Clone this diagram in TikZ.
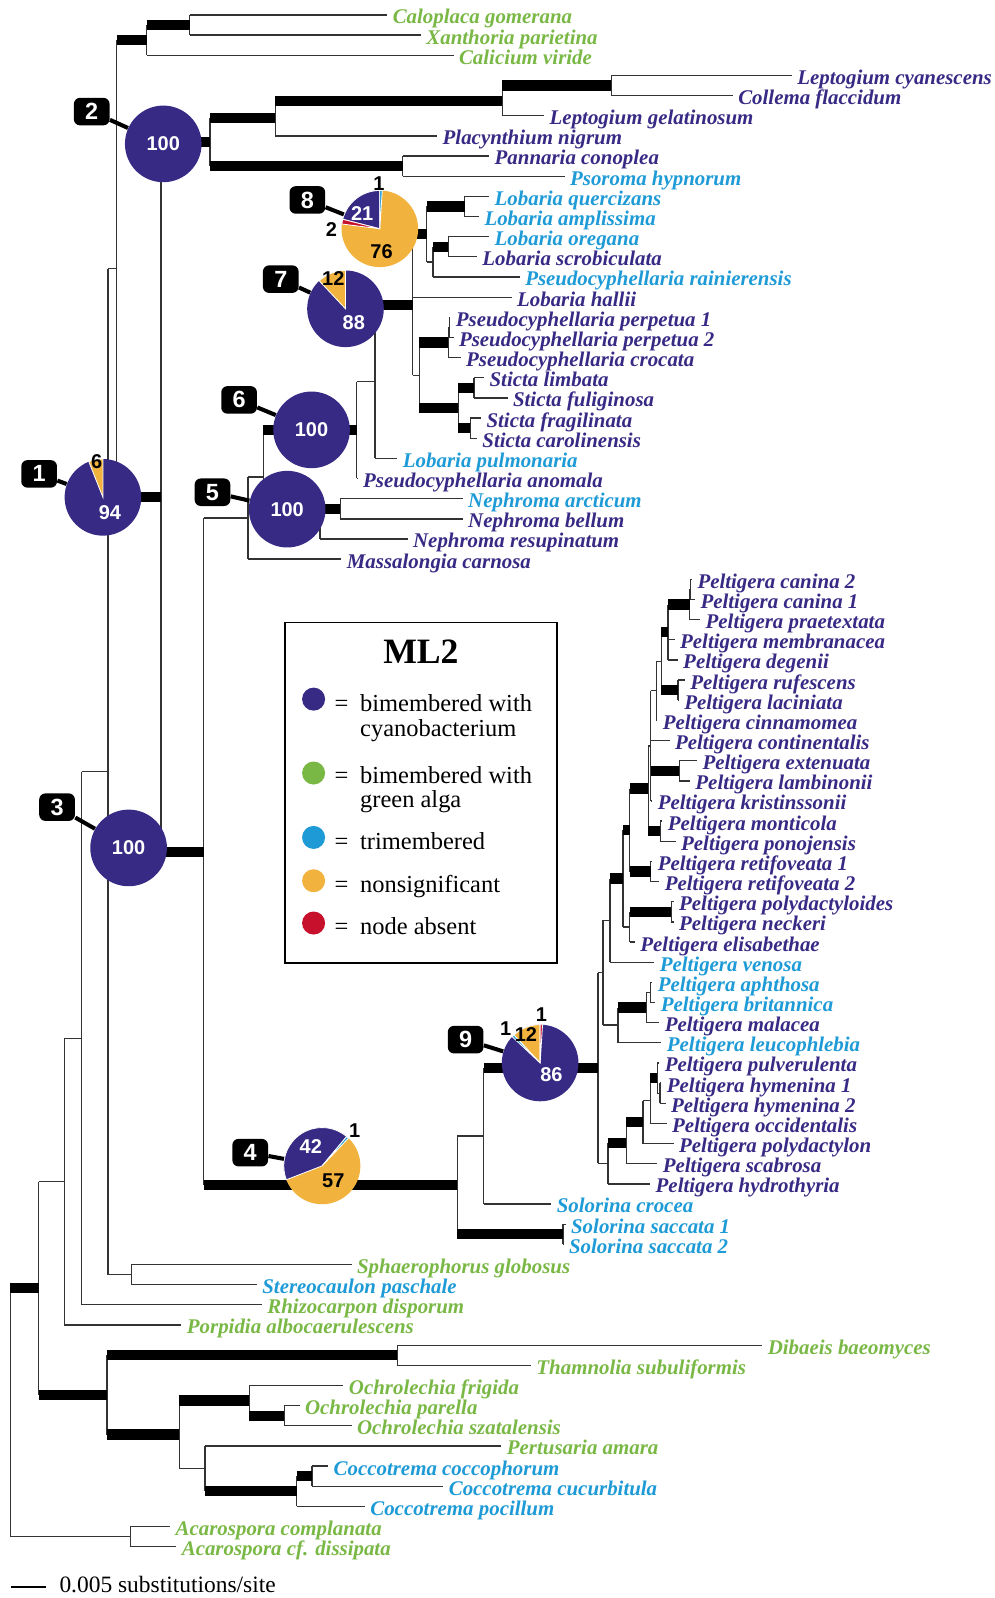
\documentclass[tikz,border=0pt]{standalone}
\usepackage{fontspec}
\setmainfont{Liberation Serif}
\setsansfont{Liberation Sans}
\definecolor{cyano}{RGB}{55,42,133}
\definecolor{alga}{RGB}{122,184,70}
\definecolor{trim}{RGB}{30,155,214}
\definecolor{nsig}{RGB}{241,179,62}
\definecolor{absent}{RGB}{198,16,44}
\begin{document}
\begin{tikzpicture}[x=0.5pt, y=-0.5pt,
    twig/.style={line width=0.65pt, black!80},
    bar/.style={line width=5pt},
    leaf/.style={anchor=west, inner xsep=2.5pt, inner ysep=0pt, text height=9pt, text depth=0.2pt,
      font=\fontsize{10.25}{12}\selectfont\bfseries\itshape},
    cb/.style={leaf, text=cyano},
    ga/.style={leaf, text=alga},
    tm/.style={leaf, text=trim},
    pie/.style={circle, fill=cyano, minimum size=37.6pt, inner sep=0pt, text=white,
      font=\sffamily\bfseries\fontsize{9.8}{10}\selectfont},
    num/.style={inner sep=0pt, font=\sffamily\bfseries\fontsize{9.8}{10}\selectfont},
    wedge/.style={draw=white, line width=0.4pt},
    tag/.style={fill=black, text=white, rounded corners=3pt, minimum width=17.5pt, minimum height=13.5pt,
      inner sep=0pt, font=\sffamily\bfseries\fontsize{11.5}{12}\selectfont},
    tagline/.style={line width=2pt},
    legtext/.style={anchor=base west, inner sep=0pt, font=\fontsize{12}{14}\selectfont},
    dot/.style={circle, minimum size=11.3pt, inner sep=0pt}]

    \useasboundingbox (0,0) rectangle (976,1568);

    % Taxa
    \node[ga] (calgom) at (380,14.7) {Caloplaca gomerana};
    \node[ga] (xanpar) at (413,34.5) {Xanthoria parietina};
    \node[ga] (calvir) at (445,54.3) {Calicium viride};
    \node[cb] (lepcya) at (777,74.0) {Leptogium cyanescens};
    \node[cb] (colfla) at (719,93.8) {Collema flaccidum};
    \node[cb] (lepgel) at (534,113.6) {Leptogium gelatinosum};
    \node[cb] (placyn) at (429,133.4) {Placynthium nigrum};
    \node[cb] (pancon) at (480,153.1) {Pannaria conoplea};
    \node[tm] (psohyp) at (554,172.9) {Psoroma hypnorum};
    \node[tm] (lobque) at (480,192.7) {Lobaria quercizans};
    \node[tm] (lobamp) at (470,212.5) {Lobaria amplissima};
    \node[tm] (lobore) at (480,232.2) {Lobaria oregana};
    \node[cb] (lobscr) at (468,252.0) {Lobaria scrobiculata};
    \node[tm] (psrain) at (510,271.8) {Pseudocyphellaria rainierensis};
    \node[cb] (lobhal) at (502,291.6) {Lobaria hallii};
    \node[cb] (psper1) at (442,311.3) {Pseudocyphellaria perpetua 1};
    \node[cb] (psper2) at (445,331.1) {Pseudocyphellaria perpetua 2};
    \node[cb] (pscroc) at (452,350.9) {Pseudocyphellaria crocata};
    \node[cb] (stilim) at (475,370.7) {Sticta limbata};
    \node[cb] (stiful) at (498,390.4) {Sticta fuliginosa};
    \node[cb] (stifra) at (472,410.2) {Sticta fragilinata};
    \node[cb] (sticar) at (468,430.0) {Sticta carolinensis};
    \node[tm] (lobpul) at (390,449.8) {Lobaria pulmonaria};
    \node[cb] (psanom) at (351,469.5) {Pseudocyphellaria anomala};
    \node[tm] (neparc) at (454,489.3) {Nephroma arcticum};
    \node[cb] (nepbel) at (454,509.1) {Nephroma bellum};
    \node[cb] (nepres) at (400,528.9) {Nephroma resupinatum};
    \node[cb] (masscar) at (335,548.6) {Massalongia carnosa};
    \node[cb] (pcan2) at (679,568.4) {Peltigera canina 2};
    \node[cb] (pcan1) at (682,588.2) {Peltigera canina 1};
    \node[cb] (ppraet) at (687,608.0) {Peltigera praetextata};
    \node[cb] (pmemb) at (662,627.7) {Peltigera membranacea};
    \node[cb] (pdeg) at (665,647.5) {Peltigera degenii};
    \node[cb] (pruf) at (672,667.3) {Peltigera rufescens};
    \node[cb] (placin) at (666,687.1) {Peltigera laciniata};
    \node[cb] (pcinn) at (645,706.8) {Peltigera cinnamomea};
    \node[cb] (pcont) at (657,726.6) {Peltigera continentalis};
    \node[cb] (pext) at (684,746.4) {Peltigera extenuata};
    \node[cb] (plamb) at (677,766.2) {Peltigera lambinonii};
    \node[cb] (pkris) at (640,785.9) {Peltigera kristinssonii};
    \node[cb] (pmont) at (650,805.7) {Peltigera monticola};
    \node[cb] (pponoj) at (663,825.5) {Peltigera ponojensis};
    \node[cb] (pret1) at (640,845.3) {Peltigera retifoveata 1};
    \node[cb] (pret2) at (647,865.0) {Peltigera retifoveata 2};
    \node[cb] (ppolyd) at (661,884.8) {Peltigera polydactyloides};
    \node[cb] (pneck) at (661,904.6) {Peltigera neckeri};
    \node[cb] (pelis) at (623,924.4) {Peltigera elisabethae};
    \node[tm] (pven) at (642,944.1) {Peltigera venosa};
    \node[tm] (paph) at (640,963.9) {Peltigera aphthosa};
    \node[tm] (pbrit) at (643,983.7) {Peltigera britannica};
    \node[cb] (pmal) at (647,1003.5) {Peltigera malacea};
    \node[tm] (pleuc) at (649,1023.2) {Peltigera leucophlebia};
    \node[cb] (ppulv) at (647,1043.0) {Peltigera pulverulenta};
    \node[cb] (phym1) at (649,1062.8) {Peltigera hymenina 1};
    \node[cb] (phym2) at (653,1082.6) {Peltigera hymenina 2};
    \node[cb] (poccid) at (654,1102.3) {Peltigera occidentalis};
    \node[cb] (ppolyn) at (661,1122.1) {Peltigera polydactylon};
    \node[cb] (pscab) at (645,1141.9) {Peltigera scabrosa};
    \node[cb] (phydro) at (638,1161.7) {Peltigera hydrothyria};
    \node[tm] (solcro) at (541,1181.4) {Solorina crocea};
    \node[tm] (solsac1) at (555,1201.2) {Solorina saccata 1};
    \node[tm] (solsac2) at (553,1221.0) {Solorina saccata 2};
    \node[ga] (sphglo) at (345,1240.8) {Sphaerophorus globosus};
    \node[tm] (stepas) at (252,1260.5) {Stereocaulon paschale};
    \node[ga] (rhidis) at (257,1280.3) {Rhizocarpon disporum};
    \node[ga] (porpalb) at (178,1300.1) {Porpidia albocaerulescens};
    \node[ga] (dibbae) at (748,1319.9) {Dibaeis baeomyces};
    \node[ga] (thasub) at (521,1339.6) {Thamnolia subuliformis};
    \node[ga] (ochfri) at (337,1359.4) {Ochrolechia frigida};
    \node[ga] (ochpar) at (294,1379.2) {Ochrolechia parella};
    \node[ga] (ochsza) at (345,1399.0) {Ochrolechia szatalensis};
    \node[ga] (perama) at (492,1418.7) {Pertusaria amara};
    \node[tm] (coccoc) at (322,1438.5) {Coccotrema coccophorum};
    \node[tm] (coccuc) at (435,1458.3) {Coccotrema cucurbitula};
    \node[tm] (cocpoc) at (358,1478.1) {Coccotrema pocillum};
    \node[ga] (acacom) at (167,1497.8) {Acarospora complanata};
    \node[ga] (acadis) at (173,1517.6) {Acarospora cf. dissipata};

    % Internal nodes
    \coordinate (root) at (10,1385.9);
    \coordinate (aca) at (128,1507.7);
    \coordinate (n38) at (38,1264.05);
    \coordinate (do) at (105,1368.7);
    \coordinate (dt) at (390,1329.75);
    \coordinate (op) at (175.8,1407.6);
    \coordinate (och) at (244.7,1374.25);
    \coordinate (ops) at (279,1389.1);
    \coordinate (pc) at (201,1441.0);
    \coordinate (cc) at (291,1463.25);
    \coordinate (cc2) at (306,1448.4);
    \coordinate (n63) at (63,1159.4);
    \coordinate (n80) at (80,1018.7);
    \coordinate (n106) at (106,757.1);
    \coordinate (sph) at (129,1250.65);
    \coordinate (n114) at (114.5,263.5);
    \coordinate (cal) at (144,39.45);
    \coordinate (cal2) at (186,24.6);
    \coordinate (n1) at (158,487.55);
    \coordinate (n2) at (206,139.5);
    \coordinate (lep) at (270,116.1);
    \coordinate (lepa) at (493,98.75);
    \coordinate (lepb) at (600,83.9);
    \coordinate (pan) at (395,163.0);
    \coordinate (n3) at (200,835.6);
    \coordinate (pelta) at (243.5,508.3);
    \coordinate (peltb) at (258.3,468.0);
    \coordinate (neph) at (314,514.05);
    \coordinate (nab) at (334,499.2);
    \coordinate (lobst) at (350,421.95);
    \coordinate (lp) at (368,374.4);
    \coordinate (n7c) at (405,299.0);
    \coordinate (n8c) at (418.5,229.8);
    \coordinate (lq) at (456,202.6);
    \coordinate (lo) at (425,256.95);
    \coordinate (los) at (439.8,242.1);
    \coordinate (ps) at (411.3,368.2);
    \coordinate (pp) at (439.8,336.05);
    \coordinate (pp12) at (441,321.2);
    \coordinate (st) at (449.6,400.3);
    \coordinate (lf) at (465,380.55);
    \coordinate (fc) at (461.6,420.1);
    \coordinate (n4) at (448.6,1162.9);
    \coordinate (ss) at (552.5,1211.1);
    \coordinate (sp) at (474.5,1114.7);
    \coordinate (pela) at (586.9,1048.0);
    \coordinate (upel) at (591.8,954.5);
    \coordinate (hydr) at (596.7,1141.6);
    \coordinate (u0) at (598.4,903.05);
    \coordinate (al) at (606.5,1005.9);
    \coordinate (k4) at (611.4,862.0);
    \coordinate (k3) at (618,814.45);
    \coordinate (pne) at (618,909.55);
    \coordinate (k2) at (636.3,773.7);
    \coordinate (reti) at (638.5,855.2);
    \coordinate (k1) at (638.5,731.85);
    \coordinate (mp) at (648,815.6);
    \coordinate (mrc) at (644,677.8);
    \coordinate (mr) at (649,648.75);
    \coordinate (memb) at (655.5,620.3);
    \coordinate (rl) at (665.3,677.2);
    \coordinate (cp) at (676.8,593.15);
    \coordinate (can) at (677.5,578.3);
    \coordinate (el) at (666.7,756.3);
    \coordinate (pn) at (658.8,894.7);
    \coordinate (abm) at (634.3,988.65);
    \coordinate (ab) at (638.5,973.8);
    \coordinate (hh) at (614.7,1121.5);
    \coordinate (pol3) at (631,1101.1);
    \coordinate (pol2) at (638.2,1080.1);
    \coordinate (pulhy) at (645,1057.85);
    \coordinate (hym) at (647.5,1072.7);

    % Verticals
    \foreach \pa/\fst/\lst in {root/n38/aca, aca/acacom/acadis, n38/n63/do, do/dt/op, dt/dibbae/thasub,
        op/och/pc, och/ochfri/ops, ops/ochpar/ochsza, pc/perama/cc, cc/cc2/cocpoc, cc2/coccoc/coccuc,
        n63/n80/porpalb, n80/n106/rhidis, n106/n114/sph, sph/sphglo/stepas, n114/cal/n1, cal/cal2/calvir,
        cal2/calgom/xanpar, n1/n2/n3, n2/lep/pan, lep/lepa/placyn, lepa/lepb/lepgel, lepb/lepcya/colfla,
        pan/pancon/psohyp, n3/pelta/n4, pelta/peltb/masscar, peltb/lobst/neph, neph/nab/nepres,
        nab/neparc/nepbel, lobst/lp/psanom, lp/n7c/lobpul, n7c/n8c/ps, n8c/lq/lo, lq/lobque/lobamp,
        lo/los/psrain, los/lobore/lobscr, ps/pp/st, pp/pp12/pscroc, pp12/psper1/psper2, st/lf/fc,
        lf/stilim/stiful, fc/stifra/sticar, n4/sp/ss, ss/solsac1/solsac2, sp/pela/solcro, pela/upel/hydr,
        upel/u0/al, u0/k4/pven, k4/k3/pne, k3/k2/reti, k2/k1/mp, k1/mrc/pkris, mrc/mr/pcinn, mr/memb/rl,
        memb/cp/pdeg, cp/can/ppraet, can/pcan2/pcan1, rl/pruf/placin, el/pext/plamb, mp/pmont/pponoj,
        reti/pret1/pret2, pne/pn/pelis, pn/ppolyd/pneck, al/abm/pleuc, abm/ab/pmal, ab/paph/pbrit,
        hydr/hh/phydro, hh/pol3/pscab, pol3/pol2/ppolyn, pol2/pulhy/poccid, pulhy/ppulv/hym, hym/phym1/phym2}
        \draw[twig] (\pa |- \fst) -- (\pa |- \lst);

    % Thin branches
    \foreach \pa/\ch in {root/aca, aca/acacom, aca/acadis, dt/dibbae, dt/thasub, och/ochfri, ops/ochpar,
        ops/ochsza, op/pc, pc/perama, cc/cocpoc, cc2/coccoc, cc2/coccuc, n38/n63, n63/n80, n63/porpalb,
        n80/n106, n80/rhidis, n106/n114, n106/sph, sph/sphglo, sph/stepas, cal/calvir, cal2/calgom,
        cal2/xanpar, lep/placyn, lepa/lepgel, lepb/lepcya, lepb/colfla, pan/pancon, pan/psohyp, n3/pelta,
        pelta/peltb, pelta/masscar, neph/nepres, nab/neparc, nab/nepbel, lobst/lp, lobst/psanom,
        lp/lobpul, n7c/lobhal, n7c/ps, n8c/lo, lq/lobque, lq/lobamp, lo/psrain, los/lobore, los/lobscr,
        pp/pp12, pp/pscroc, pp12/psper1, pp12/psper2, lf/stilim, lf/stiful, fc/stifra, fc/sticar, n4/sp,
        ss/solsac1, ss/solsac2, sp/solcro, pela/upel, pela/hydr, upel/u0, upel/al, u0/pven, k4/pne, k2/k1,
        k1/mrc, k1/pcont, k1/pkris, mrc/mr, mrc/pcinn, memb/pmemb, memb/pdeg, cp/can, cp/ppraet,
        can/pcan2, can/pcan1, rl/pruf, rl/placin, el/pext, el/plamb, mp/pmont, mp/pponoj, reti/pret1,
        reti/pret2, pne/pelis, pn/ppolyd, pn/pneck, al/pleuc, abm/ab, abm/pmal, ab/paph, ab/pbrit,
        hydr/phydro, hh/pscab, pol3/pol2, pol3/ppolyn, pol2/poccid, pulhy/ppulv, pulhy/hym, hym/phym1,
        hym/phym2}
        \draw[twig] (\pa |- \ch) -- (\ch);

    % Supported branches
    \foreach \pa/\ch in {root/n38, n38/do, do/dt, do/op, op/och, och/ops, pc/cc, cc/cc2, n114/cal,
        cal/cal2, n114/n1, n1/n2, n1/n3, n2/lep, lep/lepa, lepa/lepb, n2/pan, n3/n4, n4/ss, sp/pela,
        peltb/lobst, peltb/neph, neph/nab, lp/n7c, n7c/n8c, n8c/lq, lo/los, ps/pp, ps/st, st/lf, st/fc,
        mr/memb, mr/rl, memb/cp, k1/el, k2/mp, k3/k2, k3/reti, k4/k3, u0/k4, pne/pn, al/abm, hydr/hh,
        hh/pol3, pol2/pulhy}
        \draw[bar] (\pa |- \ch) -- (\ch);

    % Pies
    \node[pie] (pie1) at (101,488) {};
    \fill[nsig, wedge] (pie1.center) -- ++(90:18.8pt) arc[start angle=90, end angle=111.6, radius=18.8pt] -- cycle;
    \node[num] (v1a) at (94.8,452.8) {6};
    \node[num, text=white] (v1b) at (107.9,502.9) {94};

    \node[pie] (pie2) at (160.2,141.2) {100};
    \node[pie] (pie3) at (126.2,832) {100};

    \node[pie, fill=nsig] (pie4) at (316,1144) {};
    \fill[cyano, wedge] (pie4.center) -- ++(50:18.8pt) arc[start angle=50, end angle=201.2, radius=18.8pt] -- cycle;
    \fill[trim, wedge] (pie4.center) -- ++(46.4:18.8pt) arc[start angle=46.4, end angle=50, radius=18.8pt] -- cycle;
    \node[num, text=white] (v4a) at (305,1125) {42};
    \node[num] (v4b) at (327,1159) {57};
    \node[num] (v4c) at (348,1109) {1};

    \node[pie] (pie5) at (281.8,499.6) {100};
    \node[pie] (pie6) at (305.7,421.8) {100};

    \node[pie] (pie7) at (339,303) {};
    \fill[nsig, wedge] (pie7.center) -- ++(90:18.8pt) arc[start angle=90, end angle=133.2, radius=18.8pt] -- cycle;
    \node[num] (v7a) at (327,273) {12};
    \node[num, text=white] (v7b) at (347.2,316.5) {88};

    \node[pie, fill=nsig] (pie8) at (372.7,224.5) {};
    \fill[cyano, wedge] (pie8.center) -- ++(90:18.8pt) arc[start angle=90, end angle=165.6, radius=18.8pt] -- cycle;
    \fill[absent, wedge] (pie8.center) -- ++(165.6:18.8pt) arc[start angle=165.6, end angle=172.8, radius=18.8pt] -- cycle;
    \fill[trim, wedge] (pie8.center) -- ++(86.4:18.8pt) arc[start angle=86.4, end angle=90, radius=18.8pt] -- cycle;
    \node[num, text=white] (v8a) at (355.4,209.3) {21};
    \node[num] (v8b) at (374.4,246.8) {76};
    \node[num] (v8c) at (371.8,179.8) {1};
    \node[num] (v8d) at (325.3,225) {2};

    \node[pie] (pie9) at (530,1043) {};
    \fill[nsig, wedge] (pie9.center) -- ++(90:18.8pt) arc[start angle=90, end angle=133.2, radius=18.8pt] -- cycle;
    \fill[trim, wedge] (pie9.center) -- ++(133.2:18.8pt) arc[start angle=133.2, end angle=136.8, radius=18.8pt] -- cycle;
    \fill[absent, wedge] (pie9.center) -- ++(86.4:18.8pt) arc[start angle=86.4, end angle=90, radius=18.8pt] -- cycle;
    \node[num, text=white] (v9a) at (541.1,1054.4) {86};
    \node[num] (v9b) at (516,1015.2) {12};
    \node[num] (v9c) at (496.3,1009.6) {1};
    \node[num] (v9d) at (531.3,995.6) {1};

    % Node numbers
    \node[tag] (tag1) at (38.4,465) {1};
    \node[tag] (tag2) at (90,109.5) {2};
    \node[tag] (tag3) at (56,792) {3};
    \node[tag] (tag4) at (245.5,1131) {4};
    \node[tag] (tag5) at (208.5,483) {5};
    \node[tag] (tag6) at (234.6,392.4) {6};
    \node[tag] (tag7) at (275.5,273.9) {7};
    \node[tag] (tag8) at (301.6,196.2) {8};
    \node[tag] (tag9) at (456.9,1020.1) {9};
    \foreach \i in {1,...,9}
        \draw[tagline] (tag\i) -- (pie\i);

    % Legend
    \node[draw, line width=0.75pt, minimum width=133.5pt, minimum height=167pt, inner sep=0pt] (legend) at (413,777.9) {};
    \node[anchor=base, inner sep=0pt, font=\bfseries\fontsize{17.5}{20}\selectfont] (legtitle) at (413,650.6) {ML2};
    \node[dot, fill=cyano] (dcy) at (307.7,686) {};
    \node[dot, fill=alga] (dga) at (307.7,758.5) {};
    \node[dot, fill=trim] (dtm) at (307.7,821.7) {};
    \node[dot, fill=nsig] (dns) at (307.7,864.2) {};
    \node[dot, fill=absent] (dab) at (307.7,905.7) {};
    \node[legtext] (eq1) at (328,698) {=};
    \node[legtext] (eq2) at (328,768.4) {=};
    \node[legtext] (eq3) at (328,833.8) {=};
    \node[legtext] (eq4) at (328,875.6) {=};
    \node[legtext] (eq5) at (328,917.1) {=};
    \node[legtext] (lt1) at (353,698) {bimembered with};
    \node[legtext] (lt1b) at (353,722.6) {cyanobacterium};
    \node[legtext] (lt2) at (353,768.4) {bimembered with};
    \node[legtext] (lt2b) at (353,792) {green alga};
    \node[legtext] (lt3) at (353,833.8) {trimembered};
    \node[legtext] (lt4) at (353,875.6) {nonsignificant};
    \node[legtext] (lt5) at (353,917.1) {node absent};

    % Scale bar
    \coordinate (sb0) at (10.8,1557);
    \coordinate (sb1) at (45,1557);
    \draw[line width=0.9pt] (sb0) -- (sb1);
    \node[anchor=base west, inner sep=0pt, font=\fontsize{11.5}{12}\selectfont] (sbtext) at (58,1563) {0.005 substitutions/site};
\end{tikzpicture}
\end{document}
